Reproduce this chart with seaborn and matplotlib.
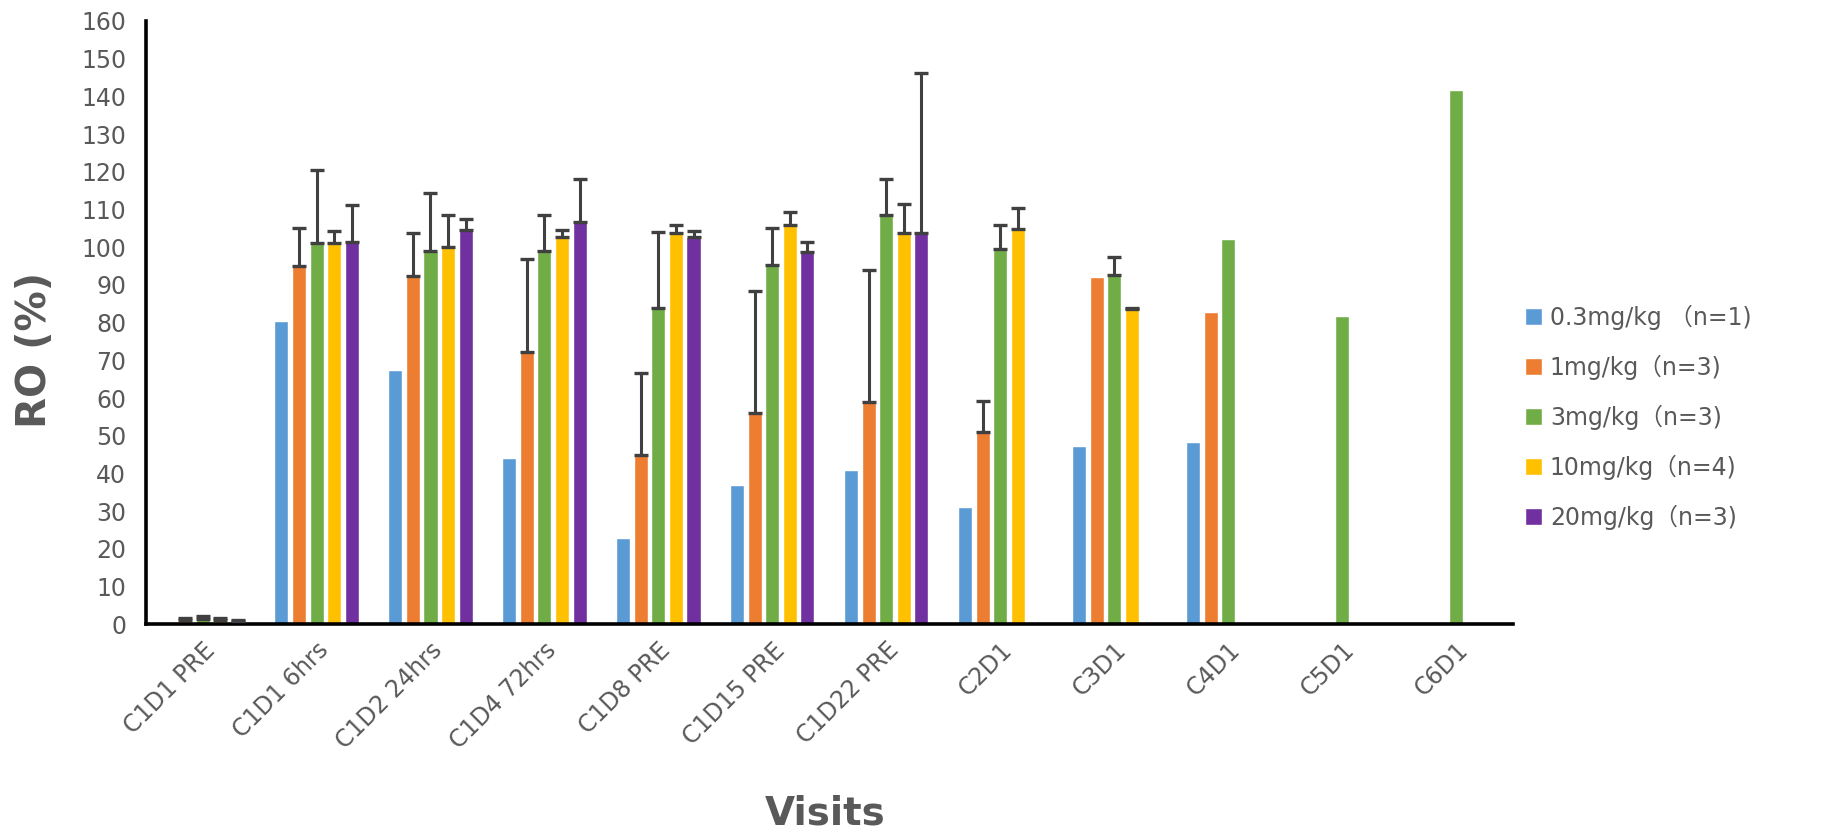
import numpy as np
import pandas as pd
import matplotlib
matplotlib.use("Agg")
import matplotlib.pyplot as plt
import matplotlib.transforms as mtransforms
import seaborn as sns

visits = ["C1D1 PRE", "C1D1 6hrs", "C1D2 24hrs", "C1D4 72hrs", "C1D8 PRE",
          "C1D15 PRE", "C1D22 PRE", "C2D1", "C3D1", "C4D1", "C5D1", "C6D1"]
doses = ["0.3mg/kg （n=1)", "1mg/kg（n=3)", "3mg/kg（n=3)",
         "10mg/kg（n=4)", "20mg/kg（n=3)"]
nan = np.nan
ro_03 = [0.5, 80.5, 67.3, 44.0, 23.0, 37.0, 41.0, 31.0, 47.3, 48.3, nan, nan]
ro_1 = [1.2, 95.0, 92.3, 72.3, 44.8, 56.0, 59.0, 51.0, 92.2, 82.8, nan, nan]
ro_3 = [1.5, 101.0, 99.0, 99.0, 83.8, 95.2, 108.5, 99.5, 92.6, 102.3, 81.8, 141.8]
ro_10 = [1.2, 101.0, 100.0, 102.7, 103.7, 106.0, 103.7, 104.8, 83.6, nan, nan, nan]
ro_20 = [0.8, 101.5, 104.5, 106.8, 102.8, 98.8, 103.7, nan, nan, nan, nan, nan]
# upper end of the error bars (mean + SD)
top_03 = [nan] * 12
top_1 = [1.7, 105.0, 103.7, 97.0, 66.5, 88.3, 94.0, 59.3, nan, nan, nan, nan]
top_3 = [2.1, 120.5, 114.5, 108.6, 103.9, 105.0, 118.2, 106.0, 97.5, nan, nan, nan]
top_10 = [1.6, 104.3, 108.6, 104.6, 106.0, 109.3, 111.4, 110.4, 84.0, nan, nan, nan]
top_20 = [1.0, 111.3, 107.6, 118.2, 104.2, 101.4, 146.3, nan, nan, nan, nan, nan]

colors = ["#5B9BD5", "#ED7D31", "#70AD47", "#FFC000", "#7030A0"]
yticks = list(range(0, 161, 10))

means = [ro_03, ro_1, ro_3, ro_10, ro_20]
tops = [top_03, top_1, top_3, top_10, top_20]
rows = []
for d, m, t in zip(doses, means, tops):
    for v, mv, tv in zip(visits, m, t):
        rows.append({"Visit": v, "Dose": d, "RO": mv, "Top": tv})
df = pd.DataFrame(rows)

sns.set_style("white")
plt.rcParams["font.family"] = ["DejaVu Sans", "Noto Sans CJK SC"]

fig = plt.figure(figsize=(18.43, 8.39), dpi=100)
ax = fig.add_axes([0.079, 0.256, 0.742, 0.719])

width = 0.77
sns.barplot(data=df.dropna(subset=["RO"]), x="Visit", y="RO", hue="Dose",
            order=visits, hue_order=doses, palette=colors, errorbar=None,
            width=width, gap=0.2, saturation=1, ax=ax, legend=True)

# error bars (upper only) at the bar centres given by seaborn
slot = width / len(doses)
top_lookup = {(r.Visit, r.Dose): r.Top for r in df.itertuples()}
for p in list(ax.patches):
    h = p.get_height()
    if not np.isfinite(h) or p.get_width() <= 0:
        continue
    xc = p.get_x() + p.get_width() / 2
    i = int(round(xc))
    j = int(round((xc - i) / slot + (len(doses) - 1) / 2))
    if not (0 <= i < len(visits) and 0 <= j < len(doses)):
        continue
    tv = top_lookup.get((visits[i], doses[j]), nan)
    if np.isfinite(tv):
        ax.errorbar(xc, h, yerr=[[0], [tv - h]], fmt="none", ecolor="#404040",
                    elinewidth=2.2, capsize=5, capthick=2.4, zorder=3)

ax.set_ylim(0, 160)
ax.set_xlim(-0.5, len(visits) - 0.5)
ax.set_yticks(yticks)
ax.set_yticklabels([str(t) for t in yticks])
ax.set_xticks(np.arange(-0.5, len(visits), 1.0))
ax.set_xticklabels([""] * (len(visits) + 1))
ax.set_xticks(np.arange(len(visits)), minor=True)
ax.set_xticklabels(visits, minor=True, rotation=45, ha="right",
                   rotation_mode="anchor", fontsize=17, color="#595959")
shift = mtransforms.ScaledTranslation(14 / 100, 0, fig.dpi_scale_trans)
for lab in ax.get_xticklabels(minor=True):
    lab.set_transform(lab.get_transform() + shift)
ax.tick_params(axis="x", which="minor", length=0, pad=10)
ax.tick_params(axis="x", which="major", length=10, width=2.2, color="black",
               direction="out")
ax.tick_params(axis="y", which="major", length=10, width=2.2, color="black",
               direction="out", labelsize=17, labelcolor="#595959", pad=4)

for s in ["top", "right"]:
    ax.spines[s].set_visible(False)
for s in ["left", "bottom"]:
    ax.spines[s].set_color("black")
    ax.spines[s].set_linewidth(2.6)

ax.set_xlabel("Visits", fontsize=28, fontweight="bold", color="#595959")
ax.set_ylabel("RO (%)", fontsize=29, fontweight="bold", color="#595959")
ax.xaxis.set_label_coords(0.497, -0.283)
ax.yaxis.set_label_coords(-0.066, 0.455)

handles, labels = ax.get_legend_handles_labels()
ax.legend(handles, labels, loc="center left", bbox_to_anchor=(0.816, 0.503),
          bbox_transform=fig.transFigure, frameon=False, fontsize=17,
          handlelength=0.7, handleheight=0.7, handletextpad=0.35,
          labelspacing=1.05, labelcolor="#595959")

fig.savefig("out.png", dpi=100, facecolor="white")
